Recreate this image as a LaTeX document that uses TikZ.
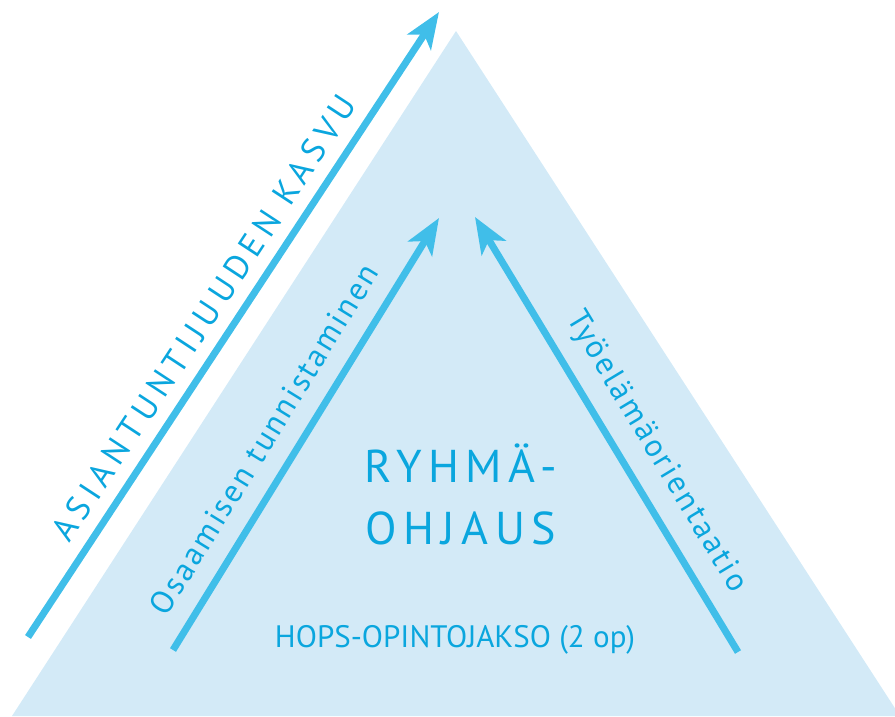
\documentclass[tikz,border=0pt]{standalone}
\usepackage{fontspec}
\setmainfont{PT Sans}
\usetikzlibrary{arrows.meta}
\definecolor{trifill}{HTML}{D3EAF7}
\definecolor{arrowblue}{HTML}{40BEE9}
\definecolor{textblue}{HTML}{0AA6DE}
\tikzset{
  bluearrow/.style={draw=arrowblue, line width=7pt,
    -{Stealth[length=36pt, width=28pt, inset=9pt]}},
  lbl/.style={text=textblue, inner sep=0pt, anchor=center},
}
\begin{document}
\begin{tikzpicture}[x=1pt,y=-1pt]
\useasboundingbox (0,0) rectangle (895,716);
\clip (0,0) rectangle (895,716);
\fill[trifill] (456,31) -- (12,716) -- (900,716) -- cycle;
% coordinates
\coordinate (bigtail) at (28,637);
\coordinate (bigtip) at (439,12);
\coordinate (ltail) at (173,650);
\coordinate (ltip) at (439,218);
\coordinate (rtail) at (738,652);
\coordinate (rtip) at (475,217);
\draw[bluearrow] (bigtail) -- (bigtip);
\draw[bluearrow] (ltail) -- (ltip);
\draw[bluearrow] (rtail) -- (rtip);
% texts
\node[lbl, rotate=56.7, font=\fontsize{34}{38}\selectfont\addfontfeatures{LetterSpace=17}] (kasvu) at (204,318) {ASIANTUNTIJUUDEN KASVU};
\node[lbl, rotate=58.3, font=\fontsize{32}{36}\selectfont\addfontfeatures{LetterSpace=7.5}] (osaam) at (264,439) {Osaamisen tunnistaminen};
\node[lbl, rotate=-58.9, font=\fontsize{32}{36}\selectfont\addfontfeatures{LetterSpace=7.5}] (tyo) at (656,452) {Työelämäorientaatio};
\node[lbl, font=\fontsize{46}{50}\selectfont\addfontfeatures{LetterSpace=14.5}] (ryhma) at (461,463) {RYHMÄ-};
\node[lbl, font=\fontsize{46}{50}\selectfont\addfontfeatures{LetterSpace=14.5}] (ohjaus) at (461,528) {OHJAUS};
\node[lbl, font=\fontsize{31}{34}\selectfont] (hops) at (455,640) {HOPS-OPINTOJAKSO (2 op)};
\end{tikzpicture}
\end{document}
